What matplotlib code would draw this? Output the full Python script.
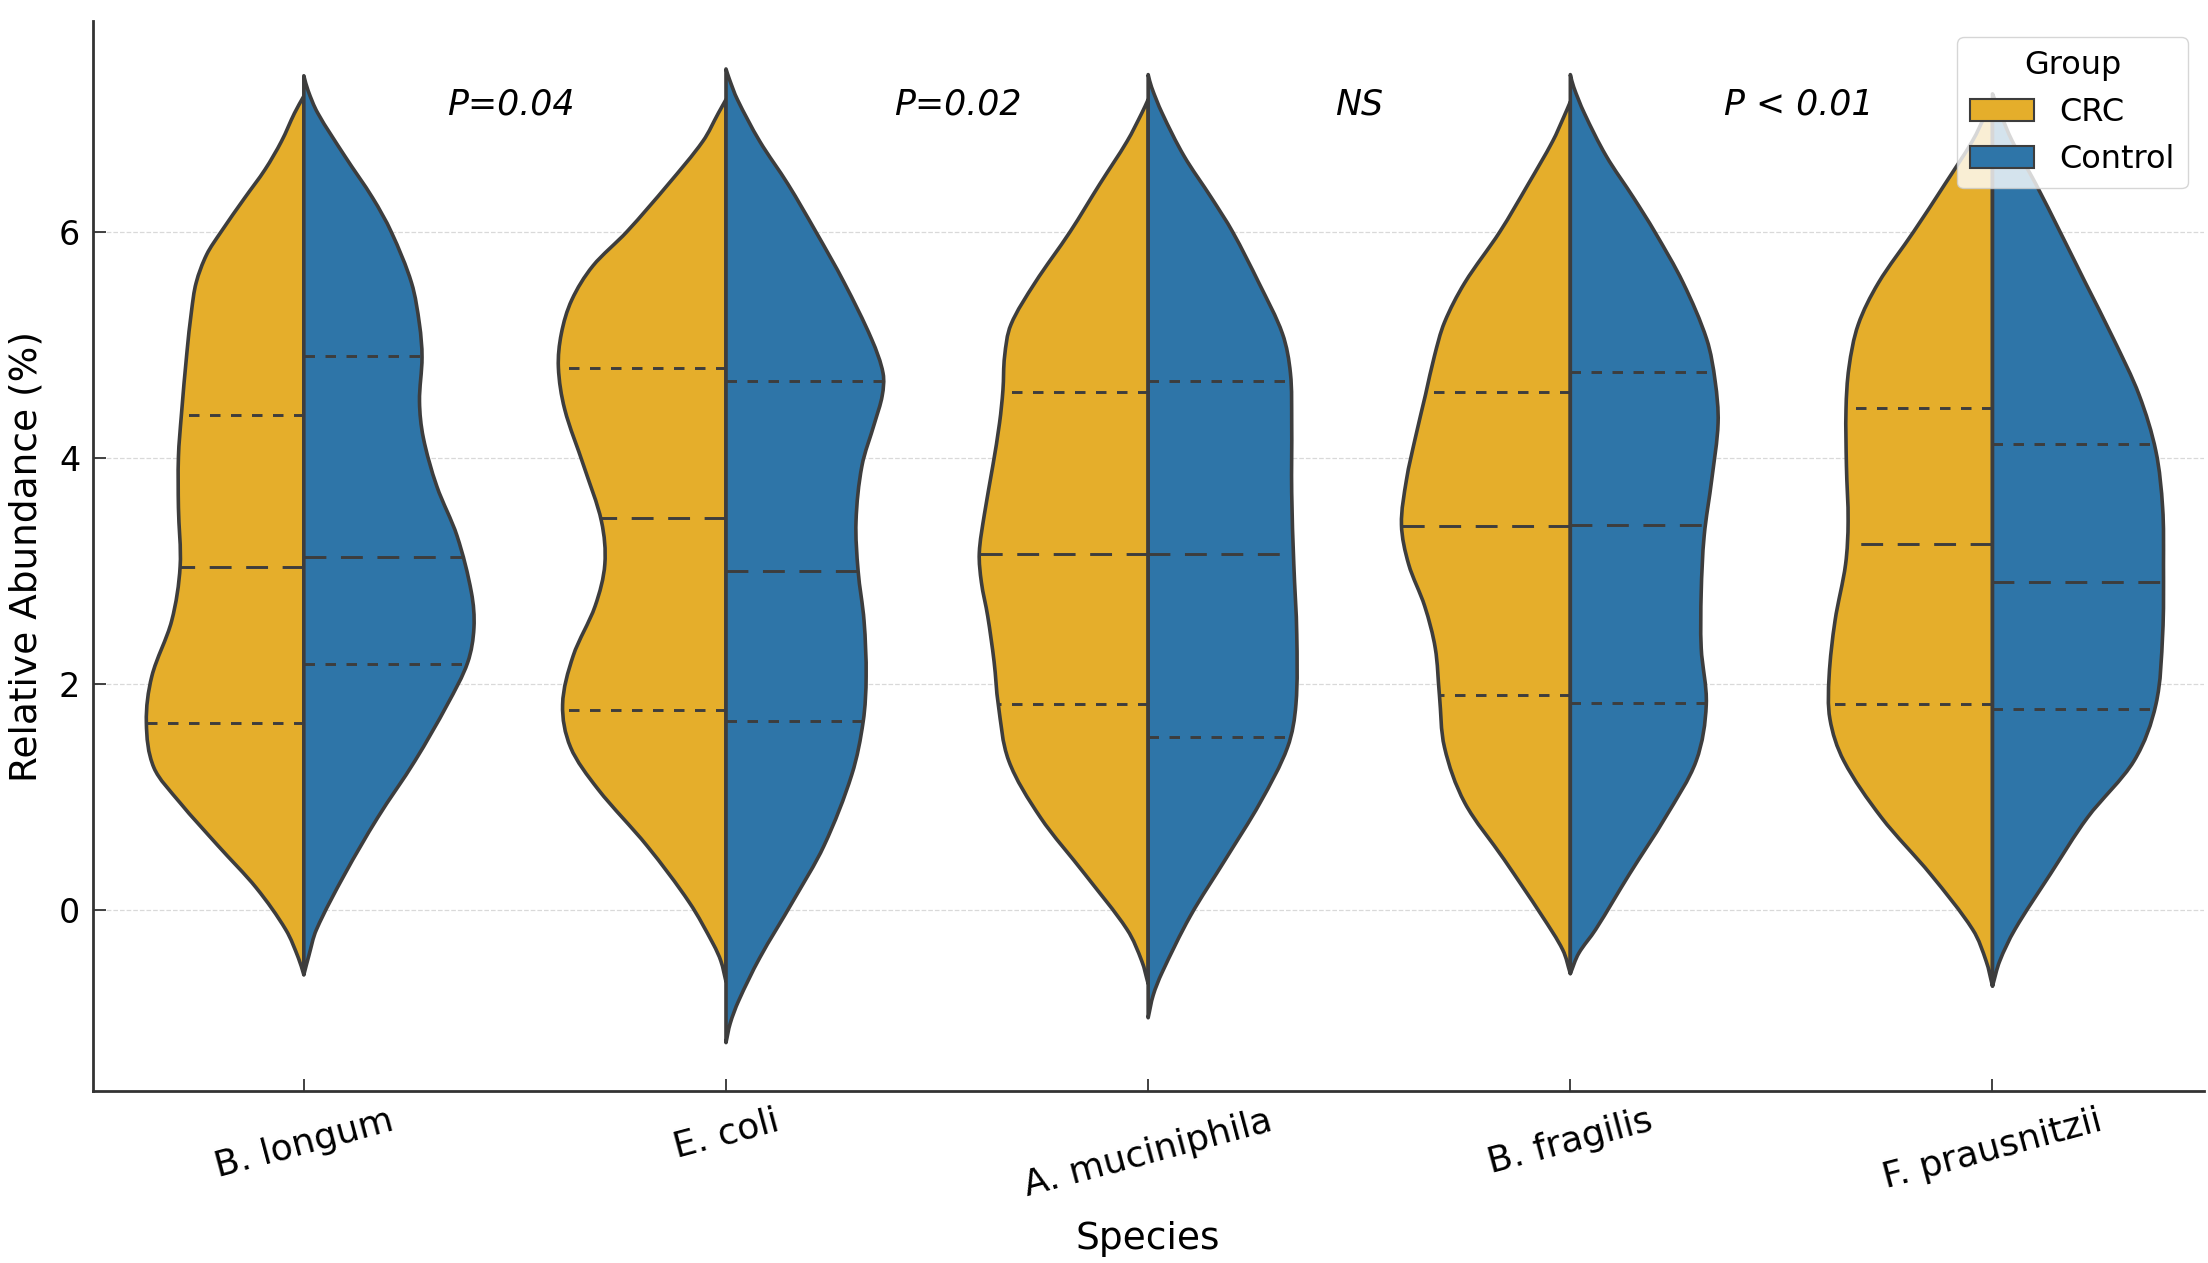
import numpy as np
import matplotlib.pyplot as plt
from matplotlib.path import Path
from matplotlib.patches import PathPatch, Patch

# categories and groups
species = ['B. longum', 'E. coli', 'A. muciniphila', 'B. fragilis', 'F. prausnitzii']
groups = ['CRC', 'Control']
p_labels = ['P=0.04', 'P=0.02', 'NS', 'P < 0.01']
p_label_x = [0.49, 1.55, 2.50, 3.54]

# violin outlines: (abundance, half width)
b_longum_crc = [(-0.57, 0.0), (-0.42, 0.013), (-0.17, 0.043), (0.20, 0.113), (0.57, 0.203), (0.95, 0.293),
                (1.26, 0.355), (1.66, 0.373), (2.07, 0.36), (2.56, 0.313), (3.04, 0.293), (3.56, 0.297),
                (4.01, 0.297), (4.38, 0.29), (4.93, 0.277), (5.30, 0.266), (5.55, 0.255), (5.80, 0.23),
                (6.00, 0.196), (6.30, 0.14), (6.55, 0.092), (6.80, 0.053), (7.05, 0.022), (7.20, 0.0)]
b_longum_ctrl = [(-0.57, 0.0), (-0.40, 0.012), (-0.17, 0.03), (0.32, 0.097), (0.82, 0.175), (1.32, 0.263),
                 (1.82, 0.34), (2.19, 0.388), (2.50, 0.403), (2.81, 0.397), (3.31, 0.363), (3.75, 0.315),
                 (4.18, 0.283), (4.50, 0.274), (4.89, 0.28), (5.18, 0.274), (5.55, 0.255), (6.00, 0.207),
                 (6.30, 0.163), (6.67, 0.097), (7.05, 0.033), (7.25, 0.01), (7.38, 0.0)]
e_coli_crc = [(-0.63, 0.0), (-0.45, 0.012), (-0.30, 0.03), (0.07, 0.087), (0.57, 0.187), (1.07, 0.303),
              (1.44, 0.368), (1.82, 0.387), (2.25, 0.362), (2.69, 0.31), (3.06, 0.287), (3.44, 0.295),
              (3.93, 0.337), (4.43, 0.382), (4.80, 0.397), (5.10, 0.39), (5.40, 0.365), (5.70, 0.315),
              (6.00, 0.235), (6.42, 0.137), (6.80, 0.055), (7.05, 0.018), (7.17, 0.0)]
e_coli_ctrl = [(-1.17, 0.0), (-1.00, 0.01), (-0.80, 0.03), (-0.42, 0.08), (0.07, 0.157), (0.57, 0.232),
               (1.20, 0.298), (1.67, 0.325), (2.07, 0.332), (2.56, 0.327), (3.00, 0.313), (3.44, 0.308),
               (3.93, 0.322), (4.31, 0.352), (4.55, 0.37), (4.75, 0.372), (5.05, 0.345), (5.55, 0.28),
               (6.00, 0.213), (6.42, 0.147), (6.80, 0.08), (7.17, 0.027), (7.35, 0.008), (7.44, 0.0)]
a_muc_crc = [(-0.65, 0.0), (-0.45, 0.015), (-0.17, 0.05), (0.32, 0.15), (0.82, 0.255), (1.32, 0.33),
             (1.82, 0.355), (2.20, 0.365), (2.60, 0.38), (2.90, 0.395), (3.16, 0.40), (3.50, 0.388),
             (3.93, 0.368), (4.31, 0.352), (4.60, 0.344), (4.90, 0.34), (5.18, 0.325), (5.55, 0.268),
             (6.00, 0.185), (6.42, 0.115), (6.80, 0.05), (7.05, 0.015), (7.17, 0.0)]
a_muc_ctrl = [(-0.95, 0.0), (-0.75, 0.012), (-0.55, 0.033), (-0.05, 0.10), (0.45, 0.183), (0.95, 0.265),
              (1.44, 0.33), (1.82, 0.35), (2.44, 0.352), (3.06, 0.345), (3.69, 0.34), (4.31, 0.34),
              (4.75, 0.337), (5.10, 0.318), (5.55, 0.262), (6.00, 0.20), (6.30, 0.15), (6.67, 0.085),
              (7.05, 0.033), (7.28, 0.008), (7.39, 0.0)]
b_frag_crc = [(-0.56, 0.0), (-0.35, 0.018), (-0.05, 0.067), (0.45, 0.157), (0.95, 0.25), (1.44, 0.298),
              (1.90, 0.31), (2.32, 0.32), (2.69, 0.345), (3.06, 0.383), (3.41, 0.40), (3.81, 0.388),
              (4.18, 0.367), (4.56, 0.343), (4.90, 0.322), (5.20, 0.298), (5.55, 0.25), (6.00, 0.167),
              (6.42, 0.10), (6.80, 0.042), (7.02, 0.015), (7.15, 0.0)]
b_frag_ctrl = [(-0.56, 0.0), (-0.38, 0.02), (-0.17, 0.06), (0.32, 0.14), (0.82, 0.225), (1.32, 0.298),
               (1.82, 0.322), (2.32, 0.31), (2.81, 0.31), (3.31, 0.317), (3.81, 0.335), (4.31, 0.35),
               (4.68, 0.343), (5.05, 0.323), (5.55, 0.267), (6.00, 0.20), (6.30, 0.15), (6.67, 0.085),
               (7.05, 0.033), (7.28, 0.008), (7.39, 0.0)]
f_prau_crc = [(-0.67, 0.0), (-0.45, 0.015), (-0.17, 0.047), (0.32, 0.147), (0.82, 0.263), (1.32, 0.352),
              (1.69, 0.385), (2.07, 0.387), (2.56, 0.373), (3.06, 0.348), (3.44, 0.342), (3.93, 0.346),
              (4.43, 0.347), (4.80, 0.34), (5.18, 0.318), (5.55, 0.27), (6.00, 0.187), (6.42, 0.113),
              (6.80, 0.048), (7.05, 0.015), (7.17, 0.0)]
f_prau_ctrl = [(-0.67, 0.0), (-0.45, 0.017), (-0.17, 0.053), (0.32, 0.137), (0.82, 0.225), (1.32, 0.335),
               (1.82, 0.387), (2.44, 0.403), (3.06, 0.405), (3.56, 0.403), (4.06, 0.387), (4.56, 0.347),
               (5.05, 0.287), (5.55, 0.22), (6.00, 0.16), (6.42, 0.103), (6.80, 0.047), (7.08, 0.015),
               (7.22, 0.0)]

crc_shapes = [b_longum_crc, e_coli_crc, a_muc_crc, b_frag_crc, f_prau_crc]
ctrl_shapes = [b_longum_ctrl, e_coli_ctrl, a_muc_ctrl, b_frag_ctrl, f_prau_ctrl]

# quartiles (Q1, median, Q3)
crc_quartiles = [(1.66, 3.04, 4.38), (1.77, 3.47, 4.80), (1.82, 3.15, 4.58), (1.90, 3.40, 4.58), (1.82, 3.24, 4.44)]
ctrl_quartiles = [(2.18, 3.12, 4.90), (1.67, 3.00, 4.68), (1.53, 3.15, 4.68), (1.83, 3.41, 4.76), (1.78, 2.90, 4.12)]

colors = ['#E5AE2B', '#2E75A8']
edge = '#3d3d3d'

plt.rcParams['font.family'] = ['DejaVu Sans']
fig, ax = plt.subplots(figsize=(22.08, 12.63), dpi=100)
fig.subplots_adjust(left=0.042, right=0.998, bottom=0.136, top=0.983)


def half_violin(ax, center, shape, side, color):
    ys = np.array([p[0] for p in shape])
    ws = np.array([p[1] for p in shape])
    xs = center + side * ws
    n = len(ys)
    # slope dx/dy at each read point (finite differences), used as Bezier handles
    m = np.empty(n)
    m[0] = (xs[1] - xs[0]) / (ys[1] - ys[0])
    m[-1] = (xs[-1] - xs[-2]) / (ys[-1] - ys[-2])
    m[1:-1] = (xs[2:] - xs[:-2]) / (ys[2:] - ys[:-2])
    verts = [(xs[0], ys[0])]
    codes = [Path.MOVETO]
    for i in range(n - 1):
        h = (ys[i + 1] - ys[i]) / 3
        verts += [(xs[i] + m[i] * h, ys[i] + h),
                  (xs[i + 1] - m[i + 1] * h, ys[i + 1] - h),
                  (xs[i + 1], ys[i + 1])]
        codes += [Path.CURVE4] * 3
    verts += [(center, ys[0]), (center, ys[0])]
    codes += [Path.LINETO, Path.CLOSEPOLY]
    patch = PathPatch(Path(verts, codes), facecolor=color, edgecolor=edge,
                      linewidth=2.6, joinstyle='round', zorder=2)
    ax.add_patch(patch)
    return ys, ws


for i, name in enumerate(species):
    for shape, quart, side, col in [(crc_shapes[i], crc_quartiles[i], -1, colors[0]),
                                    (ctrl_shapes[i], ctrl_quartiles[i], 1, colors[1])]:
        ys, ws = half_violin(ax, i, shape, side, col)
        for k, q in enumerate(quart):
            w = np.interp(q, ys, ws)
            dashes = (7.5, 5) if k == 1 else (3.6, 3.6)
            ax.plot([i, i + side * w], [q, q], color=edge, lw=2.1, dashes=dashes,
                    solid_capstyle='butt', dash_capstyle='butt', zorder=3)

# p-value annotations
for x, lab in zip(p_label_x, p_labels):
    ax.text(x, 7.13, lab, fontsize=25, fontstyle='italic', ha='center', va='center', zorder=4)

ax.set_xlim(-0.5, 4.5)
ax.set_ylim(-1.6, 7.86)
ax.set_xticks(range(len(species)))
ax.set_xticklabels(species, rotation=15, fontsize=26)
ax.set_yticks([0, 2, 4, 6])
ax.tick_params(axis='y', labelsize=24)
ax.tick_params(direction='in', length=9, width=1.3, pad=9, color='#333333')
ax.set_xlabel('Species', fontsize=27, labelpad=13)
ax.set_ylabel('Relative Abundance (%)', fontsize=27, labelpad=10)

ax.grid(axis='y', linestyle='--', color='#d9d9d9', linewidth=0.9, zorder=0)
ax.set_axisbelow(True)
for s in ['top', 'right']:
    ax.spines[s].set_visible(False)
for s in ['left', 'bottom']:
    ax.spines[s].set_linewidth(2.0)
    ax.spines[s].set_color('#333333')

handles = [Patch(facecolor=colors[0], edgecolor=edge, linewidth=1.5, label=groups[0]),
           Patch(facecolor=colors[1], edgecolor=edge, linewidth=1.5, label=groups[1])]
leg = ax.legend(handles=handles, title='Group', loc='upper right', fontsize=23, title_fontsize=23,
                frameon=True, borderaxespad=0.5)
leg.get_frame().set_edgecolor('#cccccc')
leg.set_zorder(5)

fig.savefig('out.png', dpi=100)
